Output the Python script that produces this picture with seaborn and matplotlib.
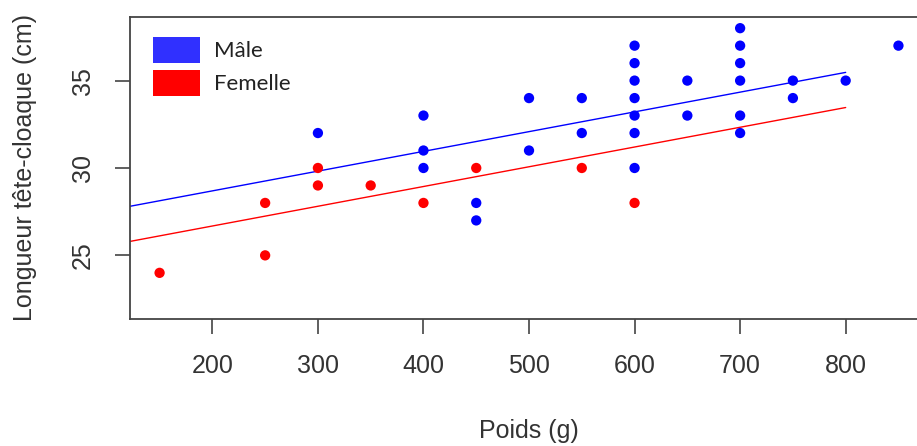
import pandas as pd
import matplotlib
matplotlib.use("Agg")
import matplotlib.pyplot as plt
import seaborn as sns
from matplotlib.patches import Patch

# Poids (g) et longueur tête-cloaque (cm)
male_poids = [300, 400, 400, 400, 450, 450, 500, 500, 550, 550,
              600, 600, 600, 600, 600, 600, 600, 650, 650,
              700, 700, 700, 700, 700, 700, 750, 750, 800, 850]
male_ltc = [32, 33, 31, 30, 28, 27, 34, 31, 34, 32,
            37, 36, 35, 34, 33, 32, 30, 35, 33,
            38, 37, 36, 35, 33, 32, 35, 34, 35, 37]
femelle_poids = [150, 250, 250, 300, 300, 350, 400, 450, 550, 600]
femelle_ltc = [24, 28, 25, 30, 29, 29, 28, 30, 30, 28]

sexes = ["Mâle", "Femelle"]
couleurs = {"Mâle": "#0000FF", "Femelle": "#FF0000"}

# droites de régression (pente commune)
pente = 0.0113
ordonnees = {"Mâle": 26.43, "Femelle": 24.42}
fit_x = [100, 800]

df = pd.DataFrame({
    "poids": male_poids + femelle_poids,
    "ltc": male_ltc + femelle_ltc,
    "sexe": ["Mâle"] * len(male_poids) + ["Femelle"] * len(femelle_poids),
})

lignes = pd.DataFrame({
    "poids": fit_x * 2,
    "ltc": [ordonnees[s] + pente * x for s in sexes for x in fit_x],
    "sexe": [s for s in sexes for _ in fit_x],
})

sns.set_style("white")
plt.rcParams["font.family"] = ["Liberation Sans", "DejaVu Sans"]

fig = plt.figure(figsize=(9.17, 4.46), dpi=100)
ax = fig.add_axes([0.1418, 0.2848, 0.8702, 0.6771])

sns.lineplot(data=lignes, x="poids", y="ltc", hue="sexe", palette=couleurs,
             linewidth=1.0, legend=False, ax=ax)
sns.scatterplot(data=df, x="poids", y="ltc", hue="sexe", palette=couleurs,
                s=55, linewidth=0, legend=False, ax=ax, zorder=3)

ax.set_xlim(122, 878)
ax.set_ylim(21.36, 38.64)
ax.set_xticks([200, 300, 400, 500, 600, 700, 800])
ax.set_yticks([25, 30, 35])
ax.tick_params(axis="both", direction="out", length=10.5, width=1.2,
               color="#444444", labelsize=18, labelcolor="#333333", pad=15,
               bottom=True, left=True)
for lab in ax.get_yticklabels():
    lab.set_rotation(90)
    lab.set_va("center")
for sp in ax.spines.values():
    sp.set_color("#444444")
    sp.set_linewidth(1.3)

ax.set_xlabel("Poids (g)", fontsize=18, color="#333333", labelpad=29)
ax.set_ylabel("Longueur tête-cloaque (cm)", fontsize=18, color="#333333", labelpad=24)

handles = [Patch(facecolor=c, edgecolor="none") for c in ["#3030FF", "#FF0000"]]
ax.legend(handles, sexes, loc="upper left", frameon=False,
          bbox_to_anchor=(0.029, 0.935), handlelength=2.1, handleheight=1.45,
          handletextpad=0.65, labelspacing=0.3, borderaxespad=0.0, borderpad=0.0,
          prop={"family": ["Lato", "DejaVu Sans"], "size": 16}, labelcolor="#222222")

fig.savefig("out.png", dpi=100)
